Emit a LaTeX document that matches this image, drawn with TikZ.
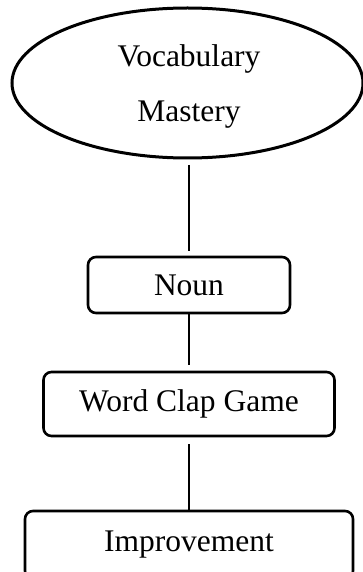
\documentclass[tikz,border=0pt]{standalone}
\usepackage{fontspec}
\setmainfont{Liberation Serif}
\begin{document}
\begin{tikzpicture}[x=1pt, y=-1pt]
    \def\cx{189}
    \tikzset{
        box/.style={draw, line width=2.6pt, rounded corners=8pt, minimum height=56pt, inner sep=0pt, font=\fontsize{31.5}{37}\selectfont},
        link/.style={line width=2.4pt}
    }
    \useasboundingbox (0,0) rectangle (363,572);

    % Draw the top ellipse labeled "Vocabulary Mastery"
    \draw[line width=3pt] (187.5, 83) ellipse (175.5 and 75);
    \node[align=center, inner sep=0pt, font=\fontsize{31.5}{55}\selectfont] (vm) at (189, 86) {Vocabulary\\Mastery};
    \coordinate (vmb) at (\cx, 158);

    % Draw the boxes below
    \node[box, minimum width=202pt] (noun) at (\cx, 285) {Noun};
    \node[box, minimum width=291pt, minimum height=64pt] (wcg) at (\cx, 404) {Word Clap Game};
    \node[box, minimum width=328pt, minimum height=68pt] (impr) at (\cx, 545) {Improvement};

    % Connect them
    \draw[link, shorten <=7pt, shorten >=5pt] (vmb) -- (noun);
    \draw[link, shorten >=6pt] (noun) -- (wcg);
    \draw[link, shorten <=7pt] (wcg) -- (impr);
\end{tikzpicture}
\end{document}
